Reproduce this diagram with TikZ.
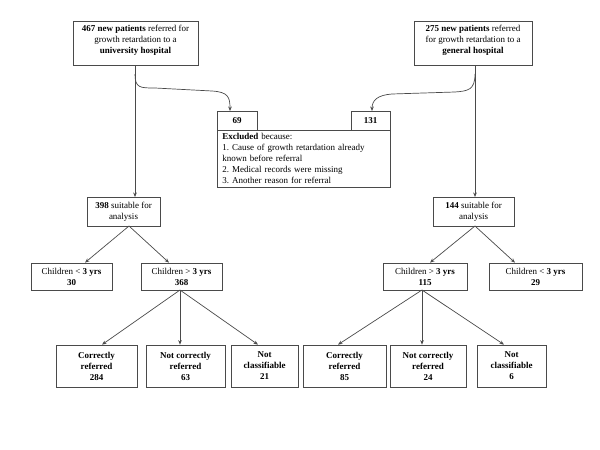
\documentclass[tikz,border=0pt]{standalone}
\usepackage{fontspec}
\setmainfont{Liberation Serif}
\usetikzlibrary{arrows.meta}
\frenchspacing
\definecolor{ln}{HTML}{4A4A4A}
\tikzset{
  box/.style={draw=ln, line width=0.7pt, align=center, inner sep=0pt,
    font=\fontsize{9}{11}\selectfont},
  conn/.style={draw=ln, line width=0.7pt},
  arr/.style={conn, -{Stealth[length=4.5pt,width=3.6pt]}}
}
\newcommand\BX[6]{\node[box,minimum width={(#4-#2)*1pt},minimum height={(#5-#3)*1pt}] (#1) at ({(#2+#4)/2},{(#3+#5)/2}) {#6};}
\begin{document}
\begin{tikzpicture}[x=1pt,y=-1pt]
\useasboundingbox[fill=white] (0,0) rectangle (600,450);
% top boxes
\BX{uni}{73}{21}{198}{65}{\textbf{467 new patients} referred for\\growth retardation to a\\\textbf{university hospital}\\[-4pt]}
\BX{gen}{414}{21}{532}{65}{\textbf{275 new patients} referred\\for growth retardation to a\\\textbf{general hospital}\\[-4pt]}
% excluded
\BX{n69}{217}{111}{257}{130}{\textbf{69}}
\BX{n131}{351}{111}{390}{130}{\textbf{131}}
\node[box, align=left, text width=163pt, inner xsep=5pt, minimum height=57pt, anchor=north west] (excl) at (217,130)
  {\textbf{Excluded} because:\\1. Cause of growth retardation already\\known before referral\\2. Medical records were missing\\3. Another reason for referral};
% suitable
\BX{s398}{87}{197}{160}{226}{\textbf{398} suitable for\\analysis}
\BX{s144}{433}{197}{514}{226}{\textbf{144} suitable for\\analysis}
% age groups
\BX{lta}{31}{263}{112}{290}{Children < \textbf{3 yrs}\\\textbf{30}}
\BX{gta}{141}{263}{222}{290}{Children > \textbf{3 yrs}\\\textbf{368}}
\BX{gtb}{383}{263}{467}{290}{Children > \textbf{3 yrs}\\\textbf{115}}
\BX{ltb}{489}{263}{582}{290}{Children < \textbf{3 yrs}\\\textbf{29}}
% outcomes
\BX{c284}{56}{345}{137}{387}{\textbf{Correctly}\\\textbf{referred}\\\textbf{284}}
\BX{n63}{146}{345}{225}{387}{\textbf{Not correctly}\\\textbf{referred}\\\textbf{63}}
\BX{u21}{231}{345}{298}{387}{\textbf{Not}\\\textbf{classifiable}\\\textbf{21}}
\BX{c85}{303}{345}{386}{387}{\textbf{Correctly}\\\textbf{referred}\\\textbf{85}}
\BX{n24}{390}{345}{466}{387}{\textbf{Not correctly}\\\textbf{referred}\\\textbf{24}}
\BX{u6}{477}{345}{546}{387}{\textbf{Not}\\\textbf{classifiable}\\\textbf{6}}
% coordinates
\coordinate (ub) at (135,65);
\coordinate (us) at (135,197);
\coordinate (usplit) at (135,74);
\coordinate (gb) at (475,65);
\coordinate (gs) at (475,197);
\coordinate (gsplit) at (475,74);
\coordinate (t69) at (230,111);
\coordinate (t131) at (372,111);
\coordinate (s398b) at (129,226);
\coordinate (s144b) at (475,226);
\coordinate (gtab) at (180,290);
\coordinate (gtbb) at (422,290);
% connectors
\draw[arr] (ub) -- (us);
\draw[arr] (gb) -- (gs);
\draw[arr] (usplit) .. controls (135,88) and (140,88) .. (155,88) -- (212,91) .. controls (228,92) and (230,97) .. (t69);
\draw[arr] (gsplit) .. controls (475,90) and (468,91) .. (455,92) -- (392,94) .. controls (378,95) and (372,100) .. (t131);
\draw[arr] (s398b) -- (lta.north -| 85,0);
\draw[arr] (s398b) -- (gta.north -| 169,0);
\draw[arr] (s144b) -- (gtb.north -| 430,0);
\draw[arr] (s144b) -- (ltb.north -| 515,0);
\draw[arr] (gtab) -- (c284.north -| 102,0);
\draw[arr] (gtab) -- (n63.north -| 180,0);
\draw[arr] (gtab) -- (u21.north -| 258,0);
\draw[arr] (gtbb) -- (c85.north -| 338,0);
\draw[arr] (gtbb) -- (n24.north -| 422,0);
\draw[arr] (gtbb) -- (u6.north -| 504,0);
\end{tikzpicture}
\end{document}
